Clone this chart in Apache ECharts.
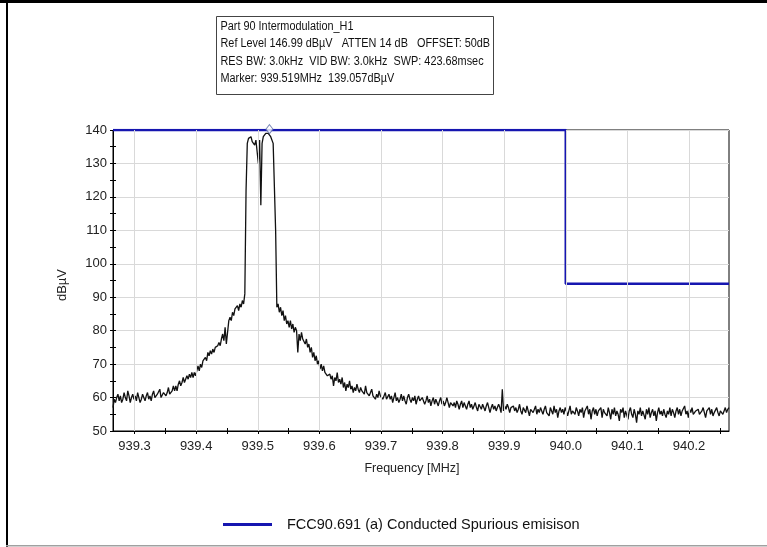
<!DOCTYPE html>
<html>
<head>
<meta charset="utf-8">
<title>Part 90 Intermodulation_H1</title>
<script src="https://cdn.jsdelivr.net/npm/echarts@6/dist/echarts.min.js"></script>
<style>
  html, body { margin: 0; padding: 0; background: #fff; }
  #chart { width: 767px; height: 547px; }
</style>
</head>
<body>
<div id="chart"></div>
<script>
// Sweep settings of the analyzer trace (MHz)
const sweepStart = 939.265;
const sweepStep = 0.002;

// Measured trace, dBµV, one value per sweep point (25 points per 0.05 MHz row)
const traceLevels = [
  57, 59.5, 58.5, 60, 61, 59, 60.5, 58.5, 59.5, 61.5, 60, 59, 62, 60.5, 58.5, 60, 61, 59.5, 60.5, 59, 61.5, 60, 58.5, 59.5, 61,
  60, 59, 60.5, 61.5, 59.5, 60.5, 59, 61, 62, 60, 59.5, 61, 60.5, 62.5, 60, 59.5, 61.5, 62, 60.5, 61.5, 63, 61, 60.5, 62, 63.5,
  62, 63.5, 62, 64, 65, 63.5, 64.5, 66, 64.5, 65, 66.5, 65.5, 67, 66, 67.5, 66, 67.5, 66.5, 68, 69.5, 68, 70, 69, 71, 70.5,
  72, 71, 73.5, 72.5, 74, 73, 74.5, 73.5, 75, 74.5, 75.5, 76.5, 75.5, 77.5, 79, 77, 81, 76, 75.5, 83, 84, 83, 85.5, 84.5, 86.5,
  86, 87.5, 86, 88, 87, 89, 88, 91, 122, 136, 137.5, 137, 138, 136.5, 137, 135.5, 137, 136.5, 130, 137, 117.5, 136, 138, 137.5, 139,
  138.5, 139, 139.057, 138, 138.5, 136, 136.5, 110, 87, 88, 85.5, 87, 84.5, 86, 83, 84.5, 82, 83, 81, 83, 80.5, 82, 79.5, 81, 80,
  73.5, 79, 77, 79.5, 77.5, 78, 76, 77.5, 75, 76, 73.5, 75, 72, 73.5, 71, 72.5, 70, 71, 68.5, 70, 68, 69.5, 67.5, 68, 66.5,
  66.5, 67, 65.5, 66.5, 63.5, 66, 65, 67.5, 64.5, 65.5, 64, 66, 63, 64.5, 62, 64, 63, 65, 62.5, 63.5, 61.5, 63, 62, 64, 62.5,
  61.5, 63, 62, 62.5, 61, 63.5, 61.5, 62, 60.5, 61.5, 62.5, 60.5, 61, 59.5, 61, 60, 62, 60.5, 61, 59.5, 60.5, 61.5, 59.5, 60, 61,
  59.5, 60.5, 58.5, 60, 61.5, 59, 60, 58.5, 59.5, 61, 59, 60.5, 59, 58, 60, 61, 59.5, 58.5, 60, 59, 60.5, 58, 59.5, 60.5, 59,
  58.5, 60, 59.5, 58, 59, 60.5, 58.5, 59.5, 57.5, 59, 60, 58, 59.5, 58.5, 57.5, 59, 60, 58, 59, 57.5, 58.5, 60, 58.5, 57, 58.5,
  59, 57.5, 58.5, 57, 59, 58, 56.5, 58, 59, 57, 58.5, 57.5, 56.5, 58, 59, 57, 58, 56.5, 57.5, 58.5, 57, 56, 58, 57.5, 56.5,
  58, 57, 56, 57.5, 58.5, 57, 55.5, 57, 58, 56.5, 57.5, 56, 57, 58, 57, 55.5, 62.5, 56, 57.5, 56.5, 58, 57, 55.5, 57, 56.5,
  57.5, 56, 57, 55.5, 56.5, 58, 56, 55, 57, 56.5, 55.5, 57.5, 56, 54.5, 56.5, 57, 55.5, 56, 57.5, 55, 56.5, 55.5, 57, 56, 55,
  56.5, 57.5, 55.5, 56, 54.5, 57, 56, 55, 57.5, 55.5, 56.5, 54, 56, 57, 55.5, 56.5, 55, 57, 56, 54.5, 56, 57.5, 55, 56, 56.5,
  55, 57, 56, 54.5, 56.5, 55.5, 57, 54, 56, 55.5, 57.5, 55, 56.5, 53.5, 56, 57, 55, 56.5, 54.5, 56, 55.5, 57, 54, 56.5, 55.5,
  56, 54.5, 57, 55.5, 53.5, 56.5, 55, 57, 54.5, 56, 55, 53, 56.5, 55.5, 57, 54, 56, 55.5, 53.5, 56, 57, 55, 54, 56.5, 55,
  52.5, 56, 55, 57, 54.5, 56, 55.5, 53.5, 56.5, 55, 57, 54, 55.5, 56.5, 54.5, 56, 53, 55.5, 57, 55, 56, 54.5, 56.5, 55, 54,
  56, 55, 57, 54.5, 56.5, 55.5, 54, 56, 57, 55, 56.5, 54.5, 56, 55.5, 57.5, 55, 56, 54, 56.5, 55.5, 57, 55, 54.5, 56, 55.5,
  56.5, 55, 54.5, 56, 57, 55.5, 54, 56, 55.5, 57, 55, 56.5, 54.5, 55.5, 56, 57, 55.5, 54.5, 56, 56.5, 55, 56, 57, 55.5, 56.5,
  57
];

// FCC 90.691 (a) limit mask
const limitFreqs = [939.265, 940.0, 940.0, 940.265];
const limitLevels = [140, 140, 94, 94];
const limitName = 'FCC90.691 (a) Conducted Spurious emisison';

// Peak marker
const markerFreq = 939.519;
const markerLevel = 139.057;

// Axis ticks and labels
const freqLabels = [939.3, 939.4, 939.5, 939.6, 939.7, 939.8, 939.9, 940.0, 940.1, 940.2];
const freqTicks = [939.3, 939.35, 939.4, 939.45, 939.5, 939.55, 939.6, 939.65, 939.7, 939.75,
                   939.8, 939.85, 939.9, 939.95, 940.0, 940.05, 940.1, 940.15, 940.2, 940.25];
const freqMin = 939.265, freqMax = 940.265;
const levelMin = 50, levelMax = 140, levelStep = 10;

// Header lines of the analyzer settings box
const headerLines = [
  'Part 90 Intermodulation_H1',
  'Ref Level 146.99 dBµV   ATTEN 14 dB   OFFSET: 50dB',
  'RES BW: 3.0kHz  VID BW: 3.0kHz  SWP: 423.68msec',
  'Marker: ' + markerFreq.toFixed(3) + 'MHz  ' + markerLevel.toFixed(3) + 'dBµV'
];

const FONT = '"Liberation Sans", Arial, sans-serif';
const traceData = traceLevels.map((v, i) => [+(sweepStart + i * sweepStep).toFixed(3), v]);
const limitData = limitFreqs.map((f, i) => [f, limitLevels[i]]);

const chart = echarts.init(document.getElementById('chart'), null, { renderer: 'canvas' });

const tickLine = { color: '#000', width: 1 };

chart.setOption({
  animation: false,
  backgroundColor: '#fff',
  textStyle: { fontFamily: FONT },
  grid: {
    left: 113, right: 38, top: 130, bottom: 116,
    show: true, borderColor: '#000', borderWidth: 1, backgroundColor: 'transparent'
  },
  legend: {
    left: 223, top: 517,
    padding: 0,
    itemWidth: 49, itemHeight: 3,
    icon: 'rect',
    data: [{ name: limitName, icon: 'rect' }],
    textStyle: { fontFamily: FONT, fontSize: 14.5, color: '#111', padding: [0, 0, 0, 10] }
  },
  xAxis: [
    {
      type: 'value', min: freqMin, max: freqMax, position: 'bottom',
      axisLine: { show: true, lineStyle: tickLine },
      axisTick: { show: true, inside: false, length: 3, customValues: freqTicks, lineStyle: tickLine },
      axisLabel: {
        customValues: freqLabels, formatter: v => v.toFixed(1),
        fontFamily: FONT, fontSize: 13, color: '#222', margin: 9
      },
      splitLine: { show: false }
    },
    {
      type: 'value', min: freqMin, max: freqMax, position: 'bottom',
      axisLine: { show: false },
      axisTick: { show: true, inside: true, length: 3, customValues: freqTicks, lineStyle: tickLine },
      axisLabel: { show: false },
      splitLine: { show: false }
    }
  ],
  yAxis: [
    {
      type: 'value', min: levelMin, max: levelMax, interval: levelStep, position: 'left',
      axisLine: { show: true, lineStyle: tickLine },
      axisTick: { show: true, inside: false, length: 3, lineStyle: tickLine },
      minorTick: { show: true, splitNumber: 2, length: 3, lineStyle: tickLine },
      axisLabel: { fontFamily: FONT, fontSize: 13, color: '#222', margin: 6 },
      splitLine: { show: true, lineStyle: { color: '#d9d9d9', width: 1 } }
    },
    {
      type: 'value', min: levelMin, max: levelMax, interval: levelStep, position: 'left',
      axisLine: { show: false },
      axisTick: { show: true, inside: true, length: 3, lineStyle: tickLine },
      minorTick: { show: true, splitNumber: 2, length: 3, lineStyle: tickLine },
      axisLabel: { show: false },
      splitLine: { show: false }
    }
  ],
  series: [
    {
      // vertical grid lines at the labelled frequencies
      type: 'line', xAxisIndex: 0, yAxisIndex: 0, data: [], z: 1, silent: true,
      markLine: {
        silent: true, symbol: 'none', label: { show: false },
        lineStyle: { color: '#d9d9d9', width: 1, type: 'solid' },
        emphasis: { disabled: true },
        data: freqLabels.map(f => ({ xAxis: f }))
      }
    },
    {
      name: 'Trace', type: 'line', data: traceData, z: 3,
      showSymbol: false, symbol: 'none',
      lineStyle: { color: '#111', width: 1.3 },
      emphasis: { disabled: true }
    },
    {
      name: limitName, type: 'line', data: limitData, z: 4,
      showSymbol: false, symbol: 'none',
      itemStyle: { color: '#1616b0' },
      lineStyle: { color: '#1616b0', width: 2.5 },
      emphasis: { disabled: true }
    },
    {
      name: 'Marker', type: 'scatter', data: [[markerFreq, markerLevel]], z: 5,
      symbol: 'diamond', symbolSize: [7, 9], symbolOffset: [0, -4],
      itemStyle: { color: '#ffffff', borderColor: '#5a6aa8', borderWidth: 1 },
      emphasis: { disabled: true }
    }
  ],
  graphic: [
    // outer frame
    { type: 'rect', shape: { x: 0, y: 0, width: 767, height: 3 }, style: { fill: '#000' }, silent: true },
    { type: 'rect', shape: { x: 6, y: 0, width: 2, height: 547 }, style: { fill: '#000' }, silent: true },
    { type: 'rect', shape: { x: 6, y: 545, width: 761, height: 1.5 }, style: { fill: '#a0a0a0' }, silent: true },
    // settings box
    {
      type: 'group', left: 216, top: 16, silent: true,
      children: [
        { type: 'rect', shape: { x: 0, y: 0, width: 277, height: 78 }, style: { fill: '#fff', stroke: '#444', lineWidth: 1 } }
      ].concat(headerLines.map((t, i) => ({
        type: 'text', x: 4, y: 10 + i * 17.5, scaleX: 0.87,
        style: { text: t, fill: '#111', font: '12.5px ' + FONT, textVerticalAlign: 'middle', textAlign: 'left' }
      })))
    },
    // axis titles
    {
      type: 'text', x: 412, y: 469, silent: true,
      style: { text: 'Frequency [MHz]', fill: '#222', font: '12.5px ' + FONT, textAlign: 'center', textVerticalAlign: 'middle' }
    },
    {
      type: 'text', x: 62, y: 285, rotation: Math.PI / 2, silent: true,
      style: { text: 'dBµV', fill: '#222', font: '13px ' + FONT, textAlign: 'center', textVerticalAlign: 'middle' }
    }
  ]
});
</script>
</body>
</html>
